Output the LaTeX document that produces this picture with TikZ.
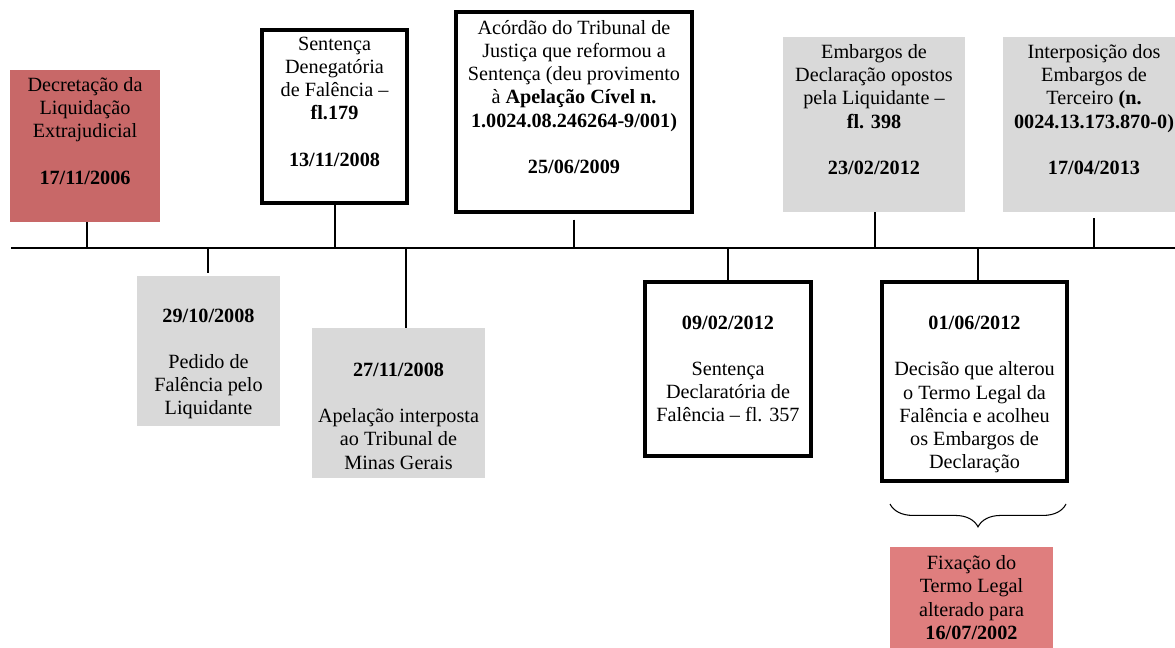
\documentclass[tikz,border=0pt]{standalone}
\usepackage{fontspec}
\setmainfont{Liberation Serif}
\usepackage{tikz}
\usetikzlibrary{decorations.pathreplacing}

\definecolor{redA}{HTML}{C86868}
\definecolor{redB}{HTML}{DF7E7E}
\definecolor{grayA}{HTML}{D9D9D9}

\begin{document}
\begin{tikzpicture}[x=0.02cm, y=-0.02cm,
   txt/.style={align=center, inner sep=0pt, font=\fontsize{11.5}{13.2}\selectfont},
   sz/.style 2 args={minimum width=#1*0.02cm, minimum height=#2*0.02cm},
   wbox/.style={txt, draw, line width=2pt, fill=white},
   gbox/.style={txt, fill=grayA},
   rbox/.style={txt, fill=#1},
   tick/.style={line width=0.6pt}]

   \def\lgap{13.2pt}

   \useasboundingbox (0,0) rectangle (1175,648);
   \clip (0,0) rectangle (1175,648);

	%axis
   \coordinate (axisL) at (11,248);
   \coordinate (axisR) at (1175,248);
   \draw[tick] (axisL) -- (axisR);

	%above the axis
   \node[rbox=redA, sz={150}{152}] (dec) at (85,146)
        {Decretação da\\Liquidação\\Extrajudicial\\[\lgap]\textbf{17/11/2006}\\\strut};
   \node[wbox, sz={145}{173}] (den) at (334.5,116.5)
        {Sentença\\Denegatória\\de Falência --\\\textbf{fl.179}\\[\lgap]\textbf{13/11/2008}\\\strut};
   \node[wbox, sz={236}{200}] (aco) at (574,112)
        {Acórdão do Tribunal de\\Justiça que reformou a\\Sentença (deu provimento\\à \textbf{Apelação Cível n.}\\\textbf{1.0024.08.246264-9/001)}\\[\lgap]\textbf{25/06/2009}\\\strut};
   \node[gbox, sz={182}{175}] (emb) at (874,124.5)
        {Embargos de\\Declaração opostos\\pela Liquidante --\\\textbf{fl. 398}\\[\lgap]\textbf{23/02/2012}\\\strut};
   \node[gbox, sz={182}{175}] (ter) at (1094,124.5)
        {Interposição dos\\Embargos de\\Terceiro \textbf{(n.}\\\textbf{0024.13.173.870-0)}\\[\lgap]\textbf{17/04/2013}\\\strut};

	%below the axis
   \node[gbox, sz={143}{150}] (ped) at (208.5,351)
        {\strut\\\textbf{29/10/2008}\\[\lgap]Pedido de\\Falência pelo\\Liquidante};
   \node[gbox, sz={173}{150}] (ape) at (398.5,403)
        {\strut\\\textbf{27/11/2008}\\[\lgap]Apelação interposta\\ao Tribunal de\\Minas Gerais};
   \node[wbox, sz={166}{174}] (sdf) at (728,369)
        {\textbf{09/02/2012}\\[\lgap]Sentença\\Declaratória de\\Falência -- fl. 357};
   \node[wbox, sz={185}{199}] (dtl) at (974.5,381.5)
        {\strut\\\textbf{01/06/2012}\\[\lgap]Decisão que alterou\\o Termo Legal da\\Falência e acolheu\\os Embargos de\\Declaração};

	%ticks
   \foreach \n/\x/\s in {dec/87/0, den/335/0, aco/574/3.4, emb/875/0, ter/1094/3.4}
      \draw[tick, shorten <=\s pt] (\n.south -| \x,0) -- (\x,0 |- axisL);
   \foreach \n/\x/\s in {ped/208/1.7, ape/406/0, sdf/728/0, dtl/978/0}
      \draw[tick, shorten >=\s pt] (\x,0 |- axisL) -- (\n.north -| \x,0);

	%brace and new date
   \coordinate (brL) at (890,504);
   \coordinate (brR) at (1066,504);
   \draw[tick, decorate, decoration={brace, mirror, amplitude=13pt}] (brL) -- (brR);

   \node[rbox=redB, sz={163}{101}] (fix) at (971.5,597.5)
        {Fixação do\\Termo Legal\\alterado para\\\textbf{16/07/2002}};

\end{tikzpicture}
\end{document}
